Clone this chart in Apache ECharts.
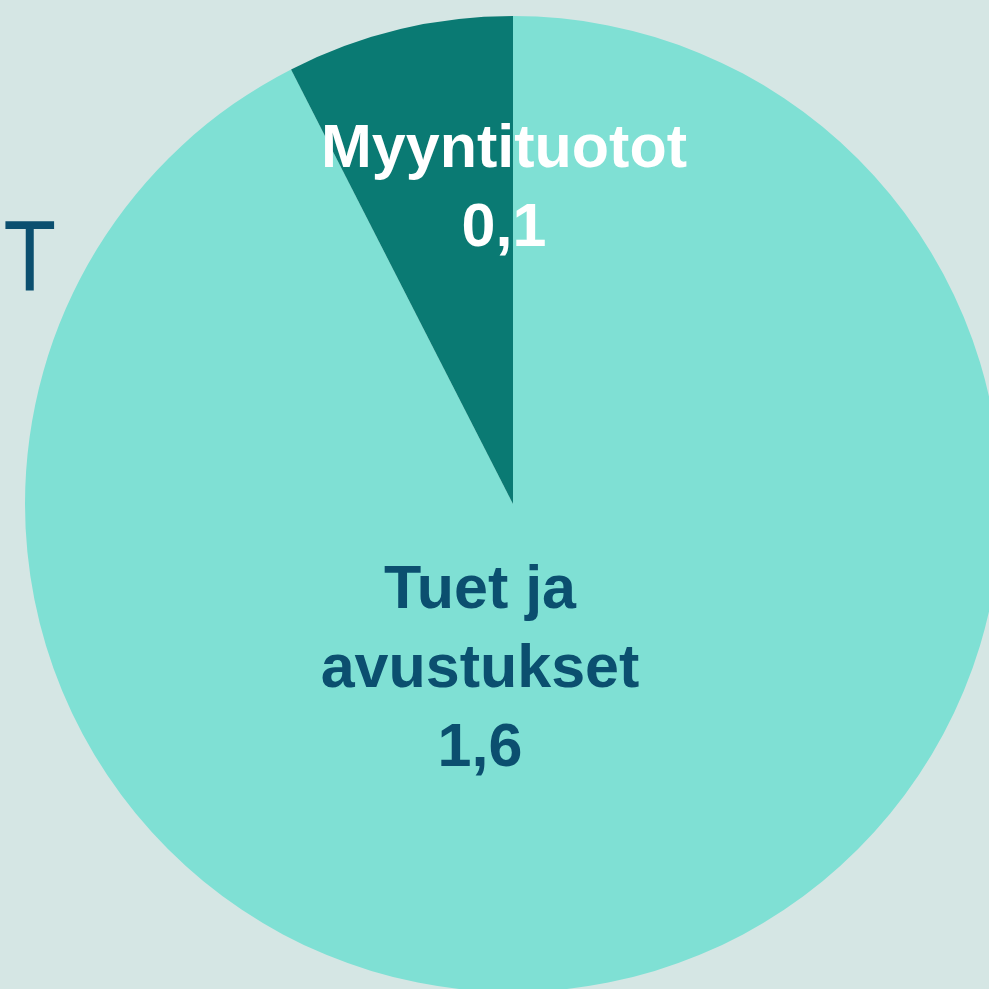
<!DOCTYPE html>
<html>
<head>
<meta charset="utf-8">
<script src="https://cdn.jsdelivr.net/npm/echarts@6/dist/echarts.min.js"></script>
<style>
  html, body { margin: 0; padding: 0; background: #d5e6e4; }
  #main { width: 989px; height: 989px; }
</style>
</head>
<body>
<div id="main"></div>
<script>
// data
var names = ['Tuet ja\navustukset', 'Myyntituotot'];
var values = [1.6, 0.13];
var colors = ['#7fe0d4', '#0a7a73'];
var labelColors = ['#0b4f6f', '#ffffff'];

// where the labels sit (pixels)
var labelSpots = [[480, 670], [504, 190]];

var myChart = echarts.init(document.getElementById('main'));

var option = {
    backgroundColor: '#d5e6e4',
    animation: false,
    graphic: [
        {
            // title mostly cut off at the left edge
            type: 'text',
            x: 56,
            y: 262,
            scaleX: 0.86,
            style: {
                text: 'TUOTOT',
                x: 0,
                y: 0,
                textAlign: 'right',
                textVerticalAlign: 'middle',
                font: '100px "Liberation Sans"',
                fill: '#0b4f6f'
            }
        }
    ],
    series: [
        {
            type: 'pie',
            center: [513, 504],
            radius: [0, 488],
            startAngle: 90,
            clockwise: true,
            silent: true,
            label: {
                show: true,
                position: 'inside',
                fontFamily: 'Liberation Sans',
                fontWeight: 'bold',
                fontSize: 61,
                lineHeight: 79,
                formatter: function (p) {
                    return p.name + '\n' + p.value.toFixed(1).replace('.', ',');
                }
            },
            labelLine: { show: false },
            labelLayout: function (params) {
                var s = labelSpots[params.dataIndex];
                return { x: s[0], y: s[1], align: 'center', verticalAlign: 'middle' };
            },
            data: names.map(function (n, i) {
                return {
                    name: n,
                    value: values[i],
                    itemStyle: { color: colors[i] },
                    label: { color: labelColors[i] }
                };
            })
        }
    ]
};

myChart.setOption(option);
</script>
</body>
</html>
